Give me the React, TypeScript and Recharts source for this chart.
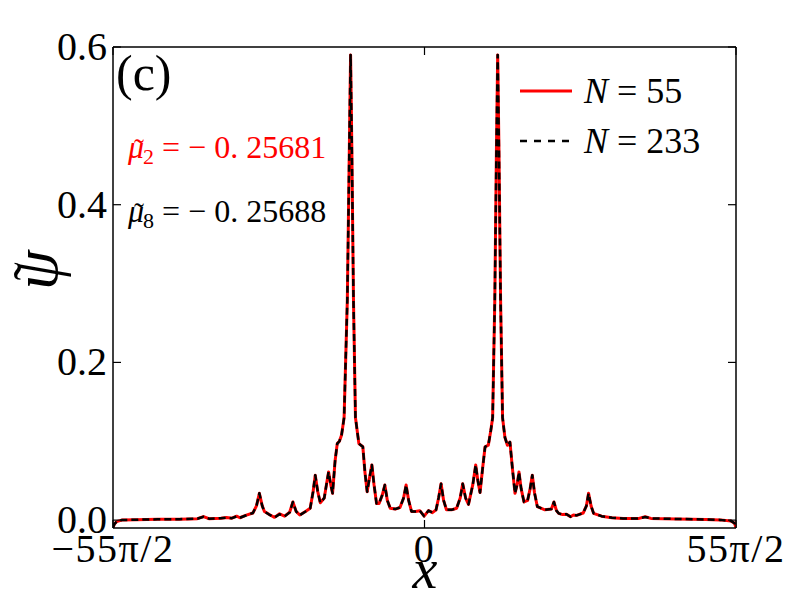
import React from 'react';
import { LineChart, Line, XAxis, YAxis, Legend, ReferenceLine } from 'recharts';

const X_MAX = (55 * Math.PI) / 2;

// x positions (in units of x)
const xs = [
  -86.39, -86.0, -85.4, -84.0, -80.0, -74.0, -68.0, -63.0, -61.3, -59.8,
  -56.5, -54.9, -53.4, -52.1, -51.2, -49.6, -47.6, -46.6, -45.8, -45.0,
  -44.4, -42.8, -41.6, -40.2, -38.8, -37.4, -36.5, -35.6, -34.6, -33.0,
  -31.7, -30.9, -30.3, -29.6, -28.9, -27.8, -27.2, -26.6, -26.0, -25.5,
  -24.8, -24.2, -23.6, -23.0, -22.3, -21.4, -20.85, -20.5, -20.15, -19.7,
  -19.15, -18.2, -17.1, -16.5, -15.9, -15.2, -14.6, -14.0, -13.3, -12.6,
  -11.7, -11.0, -10.3, -9.5, -8.1, -6.8, -5.8, -5.1, -4.4, -3.6,
  -2.5, -1.3, -0.1, 1.1, 2.2, 3.2, 3.9, 4.6, 5.3, 6.1,
  7.5, 8.9, 9.9, 10.6, 11.4, 12.2, 13.4, 14.2, 14.8, 15.4,
  16.1, 16.8, 17.7, 18.4, 18.9, 19.5, 19.95, 20.3, 20.65, 21.1,
  21.65, 22.3, 23.0, 23.7, 24.4, 25.1, 25.7, 26.2, 26.8, 27.6,
  28.6, 29.3, 29.9, 30.5, 31.3, 33.4, 35.2, 35.9, 36.6, 37.2,
  38.3, 39.4, 40.5, 41.3, 42.2, 44.0, 44.9, 45.5, 46.2, 46.9,
  49.1, 52.0, 55.1, 59.5, 61.2, 62.8, 70.0, 78.0, 82.0, 85.0,
  86.0, 86.39,
];

// |psi| for N = 55 (red solid)
const psiN55 = [
  -0.0095, -0.005, -0.002, 0.0, 0.0005, 0.001, 0.0012, 0.0018, 0.0045, 0.0018,
  0.0025, 0.0032, 0.0025, 0.005, 0.003, 0.006, 0.009, 0.018, 0.034, 0.018,
  0.011, 0.0065, 0.0035, 0.008, 0.005, 0.01, 0.023, 0.011, 0.0065, 0.011,
  0.015, 0.036, 0.057, 0.036, 0.022, 0.028, 0.045, 0.061, 0.045, 0.034,
  0.075, 0.097, 0.1, 0.108, 0.13, 0.28, 0.47, 0.59, 0.47, 0.28,
  0.13, 0.097, 0.093, 0.06, 0.036, 0.055, 0.07, 0.045, 0.021, 0.021,
  0.032, 0.0445, 0.025, 0.015, 0.014, 0.016, 0.028, 0.0445, 0.025, 0.011,
  0.011, 0.012, 0.005, 0.012, 0.0095, 0.013, 0.028, 0.046, 0.025, 0.013,
  0.013, 0.015, 0.028, 0.046, 0.028, 0.02, 0.045, 0.07, 0.05, 0.035,
  0.065, 0.093, 0.095, 0.114, 0.13, 0.28, 0.47, 0.59, 0.47, 0.28,
  0.13, 0.105, 0.095, 0.099, 0.065, 0.034, 0.045, 0.061, 0.04, 0.023,
  0.025, 0.04, 0.057, 0.035, 0.017, 0.013, 0.014, 0.023, 0.012, 0.0086,
  0.007, 0.0075, 0.0043, 0.0065, 0.006, 0.009, 0.018, 0.034, 0.018, 0.0086,
  0.005, 0.003, 0.002, 0.0022, 0.0042, 0.0022, 0.0015, 0.0008, 0.0003, -0.001,
  -0.004, -0.0095,
];

// |psi| for N = 233 (black dashed)
const psiN233 = [
  -0.0095, -0.005, -0.002, 0.0, 0.0005, 0.001, 0.0012, 0.0018, 0.0043, 0.0018,
  0.0025, 0.0031, 0.0025, 0.0048, 0.003, 0.0058, 0.009, 0.018, 0.034, 0.018,
  0.011, 0.0062, 0.0033, 0.0075, 0.0048, 0.0098, 0.023, 0.011, 0.0062, 0.011,
  0.015, 0.036, 0.057, 0.036, 0.022, 0.028, 0.045, 0.061, 0.045, 0.034,
  0.075, 0.097, 0.1, 0.108, 0.13, 0.28, 0.47, 0.59, 0.47, 0.28,
  0.13, 0.097, 0.093, 0.06, 0.036, 0.055, 0.07, 0.045, 0.021, 0.021,
  0.032, 0.0445, 0.025, 0.015, 0.014, 0.016, 0.028, 0.0445, 0.025, 0.011,
  0.011, 0.012, 0.005, 0.012, 0.0095, 0.013, 0.028, 0.046, 0.025, 0.013,
  0.013, 0.015, 0.028, 0.046, 0.028, 0.02, 0.045, 0.07, 0.05, 0.035,
  0.065, 0.093, 0.095, 0.114, 0.13, 0.28, 0.47, 0.59, 0.47, 0.28,
  0.13, 0.105, 0.095, 0.099, 0.065, 0.034, 0.045, 0.061, 0.04, 0.023,
  0.025, 0.04, 0.057, 0.035, 0.017, 0.013, 0.014, 0.023, 0.012, 0.0086,
  0.007, 0.0075, 0.0043, 0.0065, 0.006, 0.009, 0.018, 0.034, 0.018, 0.0086,
  0.005, 0.003, 0.002, 0.0022, 0.004, 0.0022, 0.0015, 0.0008, 0.0003, -0.001,
  -0.004, -0.0095,
];

const xTickValues = [-X_MAX, 0, X_MAX];
const xTickLabels = ['\u221255\u03c0/2', '0', '55\u03c0/2'];
const yTickValues = [0, 0.2, 0.4, 0.6];
const yTickLabels = ['0.0', '0.2', '0.4', '0.6'];
const Y_MIN = -0.01;
const Y_MAX = 0.6;

const seriesNames = ['N = 55', 'N = 233'];
const muValues = ['\u2212 0. 25681', '\u2212 0. 25688'];
const muSubs = ['2', '8'];

const data = xs.map((x, i) => ({ x, n55: psiN55[i], n233: psiN233[i] }));

const SERIF = "'Liberation Serif', 'Times New Roman', serif";
const serifStyle: React.CSSProperties = { fontFamily: SERIF };
const TICK_LEN = 8;
const MARGIN = { top: 47, right: 64, bottom: 0, left: 0 };
const CHART_W = 800;
const CHART_H = 600;
const PLOT_TOP = MARGIN.top;
const PLOT_RIGHT = CHART_W - MARGIN.right;

const BottomTick = (props: any) => {
  const { x, y, index } = props;
  return (
    <g>
      <line x1={x} x2={x} y1={y} y2={y - TICK_LEN} stroke="#000" strokeWidth={1.2} />
      <line x1={x} x2={x} y1={PLOT_TOP} y2={PLOT_TOP + TICK_LEN} stroke="#000" strokeWidth={1.2} />
      <text x={x} y={y + 34} textAnchor="middle" style={serifStyle} fontSize={40} letterSpacing={1.5} fill="#000">
        {xTickLabels[index]}
      </text>
    </g>
  );
};

const LeftTick = (props: any) => {
  const { x, y, index } = props;
  return (
    <g>
      <line x1={x} x2={x + TICK_LEN} y1={y} y2={y} stroke="#000" strokeWidth={1.2} />
      <line x1={PLOT_RIGHT} x2={PLOT_RIGHT - TICK_LEN} y1={y} y2={y} stroke="#000" strokeWidth={1.2} />
      <text x={x - 6} y={y + 13} textAnchor="end" style={serifStyle} fontSize={40} fill="#000">
        {yTickLabels[index]}
      </text>
    </g>
  );
};

const legendItems = [
  { name: seriesNames[0], color: '#ff0000', dash: undefined as string | undefined, width: 3 },
  { name: seriesNames[1], color: '#000000', dash: '7 7', width: 2.5 },
];

const renderLegend = () => (
  <div style={{ fontFamily: SERIF, fontSize: 36, color: '#000', lineHeight: 1 }}>
    {legendItems.map((it, i) => (
      <div key={i} style={{ display: 'flex', alignItems: 'center', height: 50 }}>
        <svg width={56} height={20} style={{ marginRight: 10 }}>
          <line x1={2} x2={54} y1={10} y2={10} stroke={it.color} strokeWidth={it.width} strokeDasharray={it.dash} />
        </svg>
        <span>
          <i>N</i>
          {it.name.slice(1)}
        </span>
      </div>
    ))}
  </div>
);

const MuLabel = ({ y, color, sub, value }: { y: number; color: string; sub: string; value: string }) => (
  <text x={128} y={y} style={serifStyle} fontSize={32} fill={color}>
    <tspan fontStyle="italic">{'\u03bc'}</tspan>
    <tspan dx={-10} dy={1} fontSize={30}>{'\u02dc'}</tspan>
    <tspan dx={-1} dy={5} fontSize={22}>{sub}</tspan>
    <tspan dx={8} dy={-6}>{'= ' + value}</tspan>
  </text>
);

export default function App() {
  return (
    <div style={{ position: 'absolute', left: 0, top: 0, width: CHART_W, height: CHART_H, background: '#fff' }}>
      <LineChart width={CHART_W} height={CHART_H} data={data} margin={MARGIN}>
        <XAxis
          dataKey="x"
          type="number"
          domain={[-X_MAX, X_MAX]}
          ticks={xTickValues}
          allowDataOverflow
          height={72}
          tickSize={0}
          tickMargin={0}
          tickLine={false}
          interval={0}
          axisLine={{ stroke: '#000', strokeWidth: 1.5 }}
          tick={<BottomTick />}
        />
        <YAxis
          type="number"
          domain={[Y_MIN, Y_MAX]}
          ticks={yTickValues}
          allowDataOverflow
          width={113}
          tickSize={0}
          tickMargin={0}
          tickLine={false}
          interval={0}
          axisLine={{ stroke: '#000', strokeWidth: 1.5 }}
          tick={<LeftTick />}
        />
        <ReferenceLine y={Y_MAX} stroke="#000" strokeWidth={1.5} />
        <ReferenceLine x={X_MAX} stroke="#000" strokeWidth={1.5} />
        <Line
          dataKey="n55"
          name={seriesNames[0]}
          type="linear"
          stroke="#ff0000"
          strokeWidth={3}
          strokeLinejoin="round"
          dot={false}
          isAnimationActive={false}
        />
        <Line
          dataKey="n233"
          name={seriesNames[1]}
          type="linear"
          stroke="#000000"
          strokeWidth={2.5}
          strokeLinejoin="round"
          strokeDasharray="7 4"
          dot={false}
          isAnimationActive={false}
        />
        <Legend
          layout="horizontal"
          verticalAlign="middle"
          align="center"
          content={renderLegend}
          wrapperStyle={{ position: 'absolute', left: 518, top: 66, width: 220 }}
        />
      </LineChart>
      <svg
        width={CHART_W}
        height={CHART_H}
        style={{ position: 'absolute', left: 0, top: 0, pointerEvents: 'none' }}
      >
        <text x={116} y={90} style={serifStyle} fontSize={50} fill="#000">(c)</text>
        <MuLabel y={158} color="#ff0000" sub={muSubs[0]} value={muValues[0]} />
        <MuLabel y={222} color="#000000" sub={muSubs[1]} value={muValues[1]} />
        <text x={425} y={588} textAnchor="middle" style={serifStyle} fontStyle="italic" fontSize={56} fill="#000">x</text>
        <text
          x={0}
          y={0}
          transform="translate(57 268) rotate(-90)"
          style={serifStyle}
          fill="#000"
          fontSize={64}
        >
          <tspan x={-22} fontStyle="italic">{'\u03c8'}</tspan>
          <tspan dx={-30} dy={-6} fontSize={54}>{'\u02dc'}</tspan>
        </text>
      </svg>
    </div>
  );
}
